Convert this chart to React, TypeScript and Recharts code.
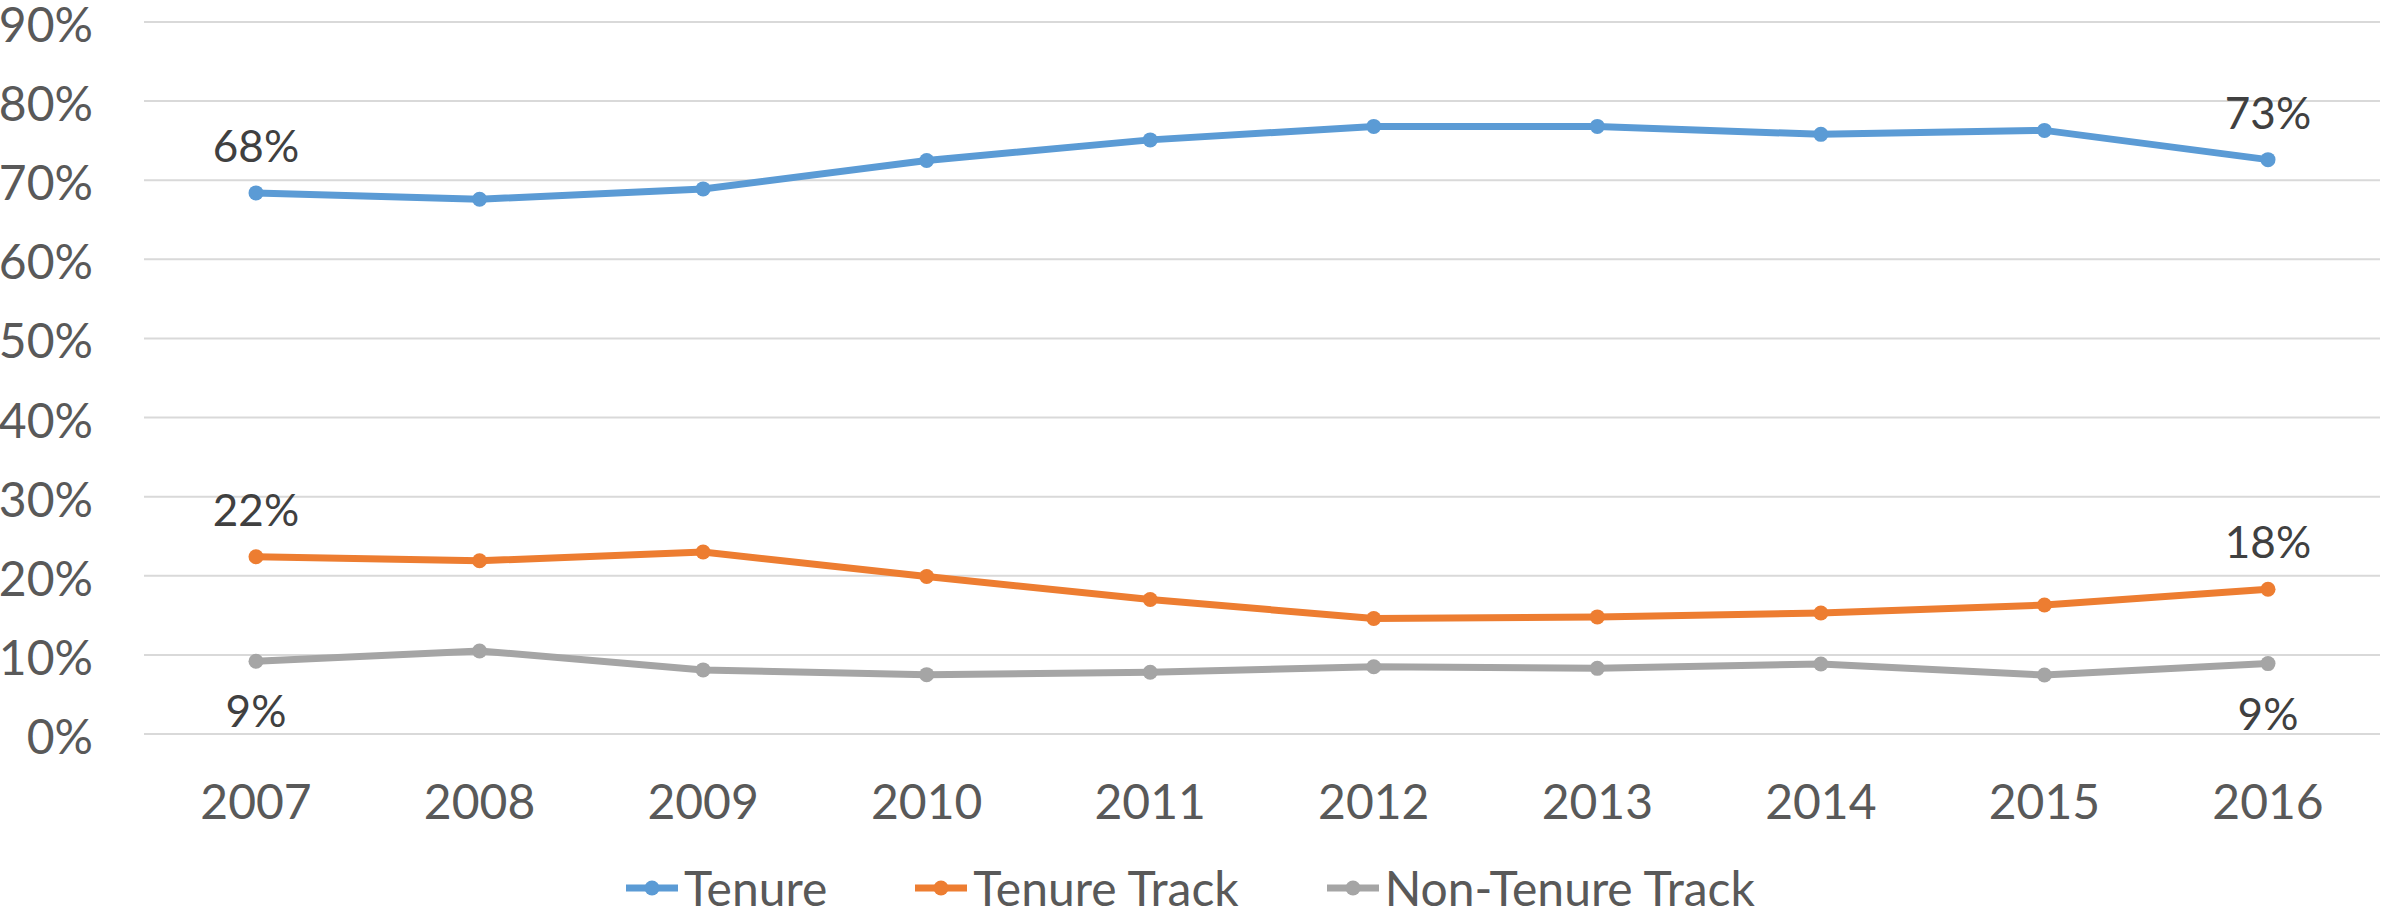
import React from 'react';
import { LineChart, Line, XAxis, YAxis, CartesianGrid, Legend, LabelList } from 'recharts';

const years = ['2007', '2008', '2009', '2010', '2011', '2012', '2013', '2014', '2015', '2016'];
const tenure = [68.4, 67.6, 68.9, 72.5, 75.1, 76.8, 76.8, 75.8, 76.3, 72.6];
const tenureTrack = [22.4, 21.9, 23.0, 19.9, 17.0, 14.6, 14.8, 15.3, 16.3, 18.3];
const nonTenureTrack = [9.2, 10.5, 8.1, 7.5, 7.8, 8.5, 8.3, 8.85, 7.45, 8.9];
const yTicks = [0, 10, 20, 30, 40, 50, 60, 70, 80, 90];

const seriesNames = ['Tenure', 'Tenure Track', 'Non-Tenure Track'];
const seriesKeys = ['tenure', 'tenureTrack', 'nonTenureTrack'];
const seriesColors = ['#5B9BD5', '#ED7D31', '#A5A5A5'];
const labelPlacement = ['above', 'above', 'below'];

const data = years.map((y, i) => ({
  year: y,
  tenure: tenure[i],
  tenureTrack: tenureTrack[i],
  nonTenureTrack: nonTenureTrack[i],
}));

const FONT = 'Lato, "Noto Sans", sans-serif';
const LAST = years.length - 1;

const makeLabel = (placement: string) => (props: any) => {
  const { x, y, value, index } = props;
  if (index !== 0 && index !== LAST) return null;
  const ty = placement === 'above' ? y - 31 : y + 66;
  return (
    <text x={x} y={ty} textAnchor="middle" fontFamily={FONT} fontSize={44} fill="#404040">
      {Math.round(Number(value))}%
    </text>
  );
};

const renderLegend = () => (
  <div
    style={{
      display: 'flex',
      justifyContent: 'center',
      alignItems: 'center',
      gap: 88,
      fontFamily: FONT,
      fontSize: 48,
      color: '#595959',
      lineHeight: '58px',
    }}
  >
    {seriesNames.map((name, i) => (
      <div key={name} style={{ display: 'flex', alignItems: 'center' }}>
        <svg width={52} height={20} style={{ display: 'block' }}>
          <line x1={0} y1={10} x2={52} y2={10} stroke={seriesColors[i]} strokeWidth={7} />
          <circle cx={26} cy={10} r={7.5} fill={seriesColors[i]} />
        </svg>
        <span style={{ marginLeft: 6 }}>{name}</span>
      </div>
    ))}
  </div>
);

export default function App() {
  return (
    <div style={{ position: 'absolute', left: 0, top: 0, background: '#fff' }}>
      <LineChart
        width={2381}
        height={914}
        data={data}
        margin={{ top: 22, right: 1, bottom: 0, left: 0 }}
      >
        <CartesianGrid vertical={false} stroke="#D9D9D9" strokeWidth={2} />
        <XAxis
          dataKey="year"
          height={180}
          padding={{ left: 112, right: 112 }}
          axisLine={false}
          tickLine={false}
          tickSize={0}
          tickMargin={51}
          tick={{ fontFamily: FONT, fontSize: 48, fill: '#595959' }}
          interval={0}
        />
        <YAxis
          width={144}
          domain={[0, 90]}
          ticks={yTicks}
          tickFormatter={(v: number) => `${v}%`}
          axisLine={false}
          tickLine={false}
          tickSize={0}
          tickMargin={51}
          tick={{ fontFamily: FONT, fontSize: 48, fill: '#595959', dy: 3 }}
          interval={0}
        />
        <Legend
          layout="horizontal"
          verticalAlign="middle"
          align="center"
          content={renderLegend}
          wrapperStyle={{ top: 859, left: 0, width: 2381 }}
        />
        {seriesKeys.map((k, i) => (
          <Line
            key={k}
            type="linear"
            dataKey={k}
            name={seriesNames[i]}
            stroke={seriesColors[i]}
            strokeWidth={7}
            dot={{ r: 7.5, fill: seriesColors[i], stroke: seriesColors[i], strokeWidth: 0 }}
            activeDot={false}
            isAnimationActive={false}
          >
            <LabelList dataKey={k} content={makeLabel(labelPlacement[i])} />
          </Line>
        ))}
      </LineChart>
    </div>
  );
}
